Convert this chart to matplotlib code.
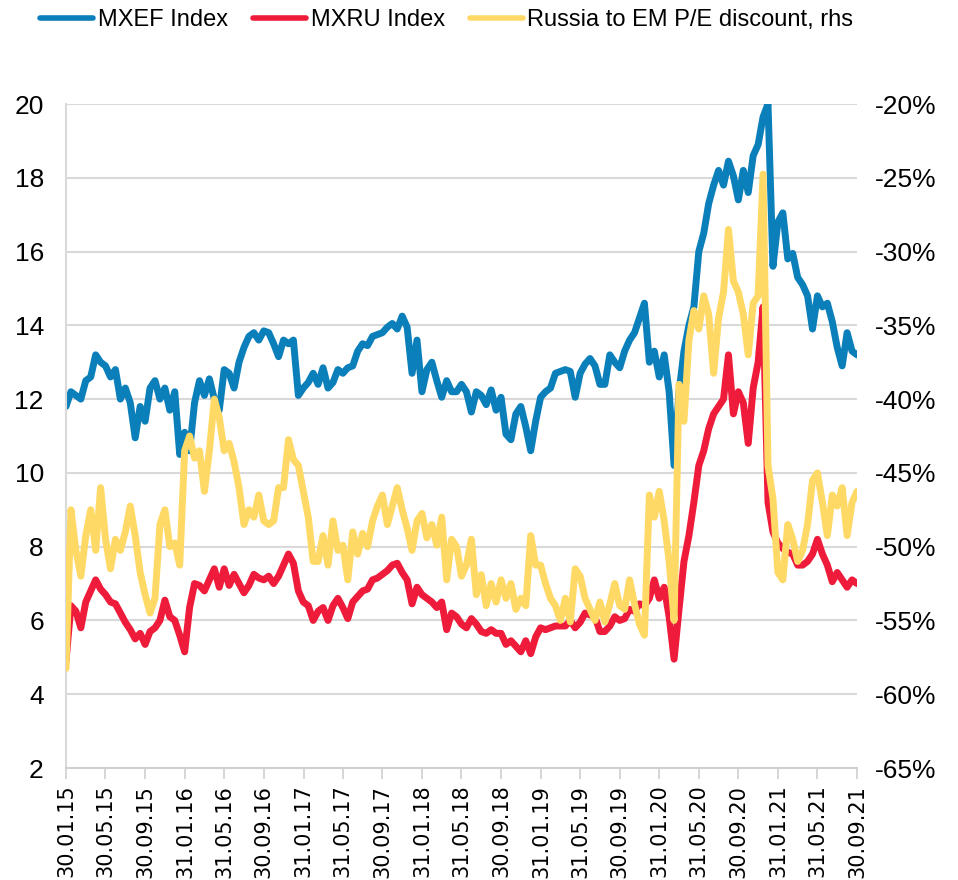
import matplotlib
matplotlib.use("Agg")
import matplotlib.pyplot as plt
from matplotlib.lines import Line2D
import pandas as pd

plt.rcParams['font.family'] = ['Liberation Sans', 'DejaVu Sans']

# semi-monthly readings, 30.01.15 .. 30.09.21
mxef = [
    11.8, 12.2, 12.1, 12.0, 12.5, 12.6, 13.2, 13.0, 12.9, 12.6,
    12.8, 12.0, 12.3, 11.9, 10.95, 11.8, 11.4, 12.3, 12.5, 12.0,
    12.3, 11.7, 12.2, 10.5, 11.1, 10.6, 11.9, 12.5, 12.1, 12.55,
    12.0, 11.7, 12.8, 12.7, 12.3, 13.0, 13.4, 13.7, 13.8, 13.6,
    13.85, 13.8, 13.5, 13.15, 13.6, 13.5, 13.6, 12.1, 12.3, 12.45,
    12.7, 12.4, 12.85, 12.3, 12.45, 12.8, 12.7, 12.85, 12.9, 13.3,
    13.5, 13.45, 13.7, 13.75, 13.8, 13.95, 14.05, 13.9, 14.25, 13.95,
    12.7, 13.6, 12.2, 12.8, 13.0, 12.5, 12.05, 12.5, 12.2, 12.2,
    12.4, 12.2, 11.65, 12.2, 12.1, 11.85, 12.25, 11.7, 12.05, 11.05,
    10.9, 11.6, 11.8, 11.25, 10.6, 11.4, 12.05, 12.2, 12.3, 12.7,
    12.75, 12.8, 12.75, 12.05, 12.7, 12.95, 13.1, 12.9, 12.4, 12.4,
    13.2, 13.0, 12.85, 13.3, 13.6, 13.8, 14.2, 14.6, 13.0, 13.3,
    12.6, 13.2, 12.2, 10.2, 12.2, 13.3, 14.0, 14.5, 16.0, 16.5,
    17.3, 17.8, 18.2, 17.8, 18.45, 18.05, 17.4, 18.2, 17.6, 18.6,
    18.9, 19.65, 20.0, 15.6, 16.8, 17.05, 15.8, 15.95, 15.3, 15.1,
    14.8, 13.9, 14.8, 14.5, 14.6, 14.1, 13.4, 12.9, 13.8, 13.3,
    13.2,
]

mxru = [
    4.9, 6.4, 6.25, 5.8, 6.5, 6.8, 7.1, 6.85, 6.7, 6.5,
    6.45, 6.2, 5.95, 5.75, 5.5, 5.65, 5.35, 5.7, 5.8, 6.0,
    6.55, 6.1, 6.0, 5.6, 5.15, 6.35, 7.0, 6.95, 6.8, 7.1,
    7.4, 6.9, 7.4, 6.95, 7.25, 7.0, 6.75, 6.95, 7.25, 7.15,
    7.1, 7.2, 7.0, 7.2, 7.5, 7.8, 7.55, 6.8, 6.5, 6.4,
    6.0, 6.25, 6.35, 6.0, 6.4, 6.6, 6.35, 6.05, 6.5, 6.65,
    6.8, 6.85, 7.1, 7.15, 7.25, 7.35, 7.5, 7.55, 7.3, 7.1,
    6.45, 6.9, 6.7, 6.6, 6.5, 6.35, 6.5, 5.75, 6.2, 6.1,
    5.9, 5.8, 6.05, 5.9, 5.7, 5.65, 5.75, 5.65, 5.65, 5.35,
    5.45, 5.3, 5.15, 5.45, 5.1, 5.55, 5.8, 5.75, 5.8, 5.85,
    5.85, 5.85, 6.0, 5.8, 5.95, 6.2, 6.15, 6.1, 5.7, 5.7,
    5.85, 6.1, 6.0, 6.05, 6.3, 6.25, 6.45, 6.4, 6.6, 7.1,
    6.6, 6.9, 6.1, 4.95, 6.3, 7.6, 8.3, 9.2, 10.2, 10.6,
    11.2, 11.6, 11.8, 12.0, 13.2, 11.6, 12.2, 11.9, 10.8, 12.3,
    13.0, 14.5, 9.2, 8.4, 8.1, 7.95, 7.85, 7.8, 7.5, 7.5,
    7.6, 7.8, 8.2, 7.8, 7.5, 7.05, 7.3, 7.1, 6.9, 7.1,
    7.0,
]

# Russia to EM P/E discount, %
discount = [
    -58.25, -47.5, -50.25, -52.0, -49.25, -47.5, -50.25, -46.0, -49.5, -51.5,
    -49.5, -50.25, -49.0, -47.25, -49.25, -51.75, -53.25, -54.5, -53.5, -48.5,
    -47.5, -50.0, -49.75, -51.25, -43.5, -42.5, -44.0, -43.5, -46.25, -43.5,
    -40.0, -41.25, -43.5, -43.0, -44.25, -46.0, -48.5, -47.5, -48.0, -46.5,
    -48.25, -48.5, -48.25, -46.0, -46.0, -42.75, -44.1, -44.5, -46.25, -48.0,
    -51.0, -51.0, -49.25, -51.25, -48.25, -50.25, -49.9, -52.25, -49.0, -50.5,
    -49.1, -50.0, -48.25, -47.25, -46.5, -48.5, -47.25, -46.0, -47.5, -48.75,
    -50.25, -48.25, -47.75, -49.4, -48.5, -49.9, -48.0, -52.25, -49.5, -50.0,
    -52.0, -51.25, -49.5, -53.25, -51.9, -54.0, -52.5, -53.75, -52.25, -53.5,
    -52.5, -54.25, -53.5, -54.0, -49.25, -51.25, -51.25, -52.5, -53.5, -54.0,
    -55.0, -53.5, -55.1, -51.5, -52.0, -53.5, -54.25, -55.0, -53.75, -55.1,
    -53.9, -52.5, -54.0, -54.25, -52.25, -53.9, -55.25, -56.0, -46.5, -48.0,
    -46.25, -48.25, -51.0, -55.0, -39.0, -41.5, -36.0, -34.0, -35.25, -33.0,
    -34.25, -38.25, -34.5, -32.75, -28.5, -32.0, -32.75, -34.25, -37.0, -33.5,
    -33.0, -24.75, -44.5, -46.75, -51.75, -52.25, -48.5, -49.5, -51.0, -50.25,
    -48.5, -45.5, -45.0, -47.0, -49.25, -46.5, -47.25, -46.0, -49.25, -47.0,
    -46.25,
]

tick_labels = ['30.01.15', '30.05.15', '30.09.15', '31.01.16', '31.05.16', '30.09.16',
               '31.01.17', '31.05.17', '30.09.17', '31.01.18', '31.05.18', '30.09.18',
               '31.01.19', '31.05.19', '30.09.19', '31.01.20', '31.05.20', '30.09.20',
               '31.01.21', '31.05.21', '30.09.21']

dates = pd.date_range('2015-01-30', '2021-09-30', periods=len(mxef))
tick_dates = pd.to_datetime(tick_labels, format='%d.%m.%y')

blue = '#0b7fba'
red = '#ee1c3a'
yellow = '#ffd966'
grid = '#d9d9d9'

fig = plt.figure(figsize=(9.58, 8.8), dpi=100)
ax = fig.add_axes([66 / 958, 1 - 768 / 880, (857 - 66) / 958, (768 - 104) / 880])
ax2 = ax.twinx()

style = dict(lw=5, solid_joinstyle='round', solid_capstyle='round')
ax.plot(dates, mxef, color=blue, **style)
ax.plot(dates, mxru, color=red, **style)
ax2.plot(dates, discount, color=yellow, **style)

ax.set_ylim(2, 20)
ax.set_yticks(range(2, 21, 2))
ax2.set_ylim(-65, -20)
ax2.set_yticks(range(-65, -19, 5))
ax2.set_yticklabels([f'{v}%' for v in range(-65, -19, 5)])
ax.set_xlim(dates[0], dates[-1])

ax.set_xticks(tick_dates)
ax.set_xticklabels(tick_labels, rotation=90, family='DejaVu Sans', fontsize=15)
ax.tick_params(axis='x', length=8, width=1.2, color='#d0d0d0', pad=4)
ax.tick_params(axis='y', length=0, labelsize=19, pad=16)
ax2.tick_params(axis='y', length=0, labelsize=19, pad=13)

ax.grid(axis='y', color=grid, lw=1.5)
ax.set_axisbelow(True)
for a in (ax, ax2):
    a.spines['top'].set_visible(False)
    a.spines['right'].set_visible(False)
ax2.spines['left'].set_visible(False)
ax2.spines['bottom'].set_visible(False)
ax.spines['left'].set_color(grid)
ax.spines['left'].set_linewidth(1.5)
ax.spines['bottom'].set_color('#d0d0d0')
ax.spines['bottom'].set_linewidth(1.5)

handles = [Line2D([], [], color=c, lw=4, solid_capstyle='round') for c in (blue, red, yellow)]
fig.legend(handles, ['MXEF Index', 'MXRU Index', 'Russia to EM P/E discount, rhs'],
           loc='center left', bbox_to_anchor=(40 / 958, 1 - 20 / 880), ncol=3, frameon=False,
           fontsize=17, handlelength=2.25, handletextpad=0.2, columnspacing=1.05,
           borderpad=0, borderaxespad=0)

fig.savefig('out.png', dpi=100)
